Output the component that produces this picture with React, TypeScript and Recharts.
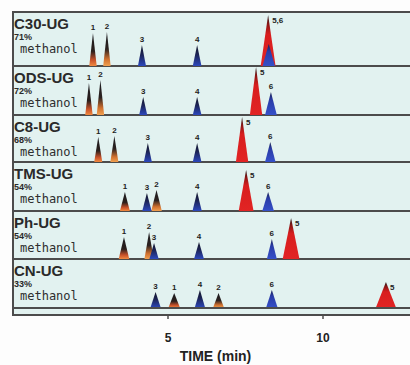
import React from 'react';
import { ComposedChart, Area, XAxis, YAxis, ReferenceLine } from 'recharts';

const COLUMNS = ['C30-UG', 'ODS-UG', 'C8-UG', 'TMS-UG', 'Ph-UG', 'CN-UG'];
const METHANOL = ['71%', '72%', '68%', '54%', '54%', '33%'];
const COMPOUNDS = [1, 2, 3, 4, 5, 6];

// retention time (min) of compounds 1..6 on each column
const RETENTION = [
  [2.58, 3.03, 4.16, 5.94, 8.23, 8.25],
  [2.45, 2.82, 4.2, 5.94, 7.84, 8.32],
  [2.75, 3.27, 4.35, 5.94, 7.39, 8.3],
  [3.61, 4.63, 4.32, 5.94, 7.52, 8.23],
  [3.58, 4.39, 4.55, 6.0, 8.97, 8.35],
  [5.2, 6.63, 4.6, 6.03, 12.03, 8.35],
];
// peak heights (detector response, arbitrary units)
const HEIGHTS = [
  [33, 34, 21, 21, 51, 22],
  [32, 35, 18, 18, 48, 23],
  [25, 26, 19, 19, 45, 20],
  [19, 21, 18, 19, 41, 19],
  [22, 27, 16, 17, 41, 20],
  [15, 15, 16, 18, 26, 18],
];
// half of the base width of each peak (min)
const HALF_WIDTHS = [
  [0.12, 0.12, 0.13, 0.14, 0.24, 0.2],
  [0.12, 0.12, 0.13, 0.14, 0.2, 0.19],
  [0.13, 0.13, 0.13, 0.14, 0.2, 0.17],
  [0.16, 0.17, 0.15, 0.15, 0.24, 0.19],
  [0.17, 0.15, 0.15, 0.16, 0.27, 0.16],
  [0.19, 0.18, 0.17, 0.17, 0.33, 0.19],
];
const PEAK_LABELS = [
  ['1', '2', '3', '4', '5,6', ''],
  ['1', '2', '3', '4', '5', '6'],
  ['1', '2', '3', '4', '5', '6'],
  ['1', '2', '3', '4', '5', '6'],
  ['1', '2', '3', '4', '5', '6'],
  ['1', '2', '3', '4', '5', '6'],
];
const TIME_TICKS = [0, 5, 10];

const PANEL_TOPS = [12, 66, 115, 162, 211, 259];
const PANEL_BOTTOMS = [66, 115, 162, 211, 259, 308];
const AXIS_Y = 315;
const LEFT = 13;
const WIDTH = 397;
const PX_PER_MIN = 31;
const X_MAX = WIDTH / PX_PER_MIN;

const BG = '#e2f2f0';
const LINE = '#4c4c4c';
const SANS = '"Liberation Sans", Arial, sans-serif';

const GRADIENTS: Record<number, [number, string][]> = {
  1: [[0, '#1c1c20'], [0.55, '#2a1f1c'], [0.82, '#c9522a'], [1, '#f08a40']],
  2: [[0, '#1c1c20'], [0.5, '#2c2220'], [0.8, '#d0702e'], [1, '#f0a050']],
  3: [[0, '#12162a'], [0.45, '#1c2354'], [1, '#2c48bc']],
  4: [[0, '#12162a'], [0.45, '#1c2354'], [1, '#2c48bc']],
  5: [[0, '#1a1616'], [0.18, '#8a1616'], [0.38, '#d81e1e'], [1, '#e22424']],
  6: [[0, '#1a2150'], [0.35, '#2a3ca8'], [1, '#3550c8']],
};

function buildRows(p: number) {
  const rows = new Map<string, any>();
  COMPOUNDS.forEach((id, k) => {
    const rt = RETENTION[p][k];
    const w = HALF_WIDTHS[p][k];
    const h = HEIGHTS[p][k];
    const pts: [number, number][] = [[rt - w, 0], [rt, h], [rt + w, 0]];
    pts.forEach(([x, y]) => {
      const key = x.toFixed(3);
      const row = rows.get(key) ?? { t: Number(key) };
      row['p' + id] = y;
      rows.set(key, row);
    });
  });
  return [...rows.values()].sort((a, b) => a.t - b.t);
}

const peakLabel = (text: string, side: boolean) => (props: any) => {
  const { x, y, value } = props;
  const v = Array.isArray(value) ? value[1] : value;
  if (!v || !text || x == null || y == null) return null;
  return (
    <text
      x={x + (side ? 4 : 0)}
      y={y + (side ? 8 : -3)}
      textAnchor={side ? 'start' : 'middle'}
      fontSize={8}
      fontWeight="bold"
      fontFamily={SANS}
      fill="#222"
    >
      {text}
    </text>
  );
};

function Panel({ p }: { p: number }) {
  const top = PANEL_TOPS[p];
  const bottom = PANEL_BOTTOMS[p];
  const last = p === COLUMNS.length - 1;
  const plotH = last ? AXIS_Y - top : bottom - top;
  const axisH = last ? 365 - AXIS_Y : 0;
  const below = last ? AXIS_Y - bottom : 0;
  const data = buildRows(p);
  const titleY = top + 16;

  return (
    <>
      {!last && (
        <div style={{ position: 'absolute', left: 12, top: bottom - 1, width: 398, height: 2, background: LINE }} />
      )}
      <div style={{ position: 'absolute', left: 14, top: titleY - 12, fontFamily: SANS, fontWeight: 'bold', fontSize: 15, lineHeight: '15px', color: '#2a2a2a', whiteSpace: 'nowrap' }}>
        {COLUMNS[p]}
      </div>
      <div style={{ position: 'absolute', left: 14, top: titleY + 13 - 8, fontFamily: SANS, fontWeight: 'bold', fontSize: 9, lineHeight: '9px', color: '#2a2a2a' }}>
        {METHANOL[p]}
      </div>
      <div style={{ position: 'absolute', left: 20, top: titleY + 24 - 9, fontFamily: '"DejaVu Sans Mono", monospace', fontSize: 12, lineHeight: '12px', color: '#2e2e2e' }}>
        methanol
      </div>
      <div style={{ position: 'absolute', left: LEFT, top }}>
        <ComposedChart
          width={WIDTH}
          height={plotH + axisH}
          data={data}
          margin={{ top: 0, right: 0, bottom: 0, left: 0 }}
        >
          <defs>
            {COMPOUNDS.map((id) => (
              <linearGradient key={id} id={`g${p}-${id}`} x1="0" y1="0" x2="0" y2="1">
                {GRADIENTS[id].map(([o, c]) => (
                  <stop key={o} offset={o} stopColor={c} />
                ))}
              </linearGradient>
            ))}
          </defs>
          <XAxis
            dataKey="t"
            type="number"
            domain={[0, X_MAX]}
            allowDataOverflow
            ticks={TIME_TICKS}
            hide={!last}
            height={axisH}
            axisLine={{ stroke: LINE, strokeWidth: 2 }}
            tickLine={{ stroke: LINE, strokeWidth: 1.5 }}
            tickSize={4}
            tickMargin={14}
            tick={{ fill: '#222', fontSize: 12, fontWeight: 'bold', fontFamily: SANS }}
            label={last ? { value: 'TIME (min)', position: 'insideBottom', offset: 4, dx: 4, fill: '#222', fontSize: 14, fontWeight: 'bold', fontFamily: SANS } : undefined}
          />
          <YAxis hide type="number" domain={[-below, plotH - below]} allowDataOverflow />
          {last && <ReferenceLine y={0} stroke={LINE} strokeWidth={2} />}
          {COMPOUNDS.map((id, k) => (
            <Area
              key={id}
              dataKey={'p' + id}
              type="linear"
              connectNulls
              baseValue={0}
              stroke="none"
              fill={`url(#g${p}-${id})`}
              fillOpacity={1}
              dot={false}
              activeDot={false}
              isAnimationActive={false}
              label={peakLabel(PEAK_LABELS[p][k], id === 5)}
            />
          ))}
        </ComposedChart>
      </div>
    </>
  );
}

export default function App() {
  return (
    <div style={{ position: 'absolute', left: 0, top: 0, width: 410, height: 365, background: '#fdfdfd', overflow: 'hidden' }}>
      <div style={{ position: 'absolute', left: 13, top: 12, width: 397, height: AXIS_Y - 12, background: BG }} />
      <div style={{ position: 'absolute', left: 12, top: 11, width: 398, height: 2, background: LINE }} />
      <div style={{ position: 'absolute', left: 12, top: 11, width: 2, height: AXIS_Y - 10, background: LINE }} />
      {COLUMNS.map((_, p) => (
        <Panel key={p} p={p} />
      ))}
    </div>
  );
}
